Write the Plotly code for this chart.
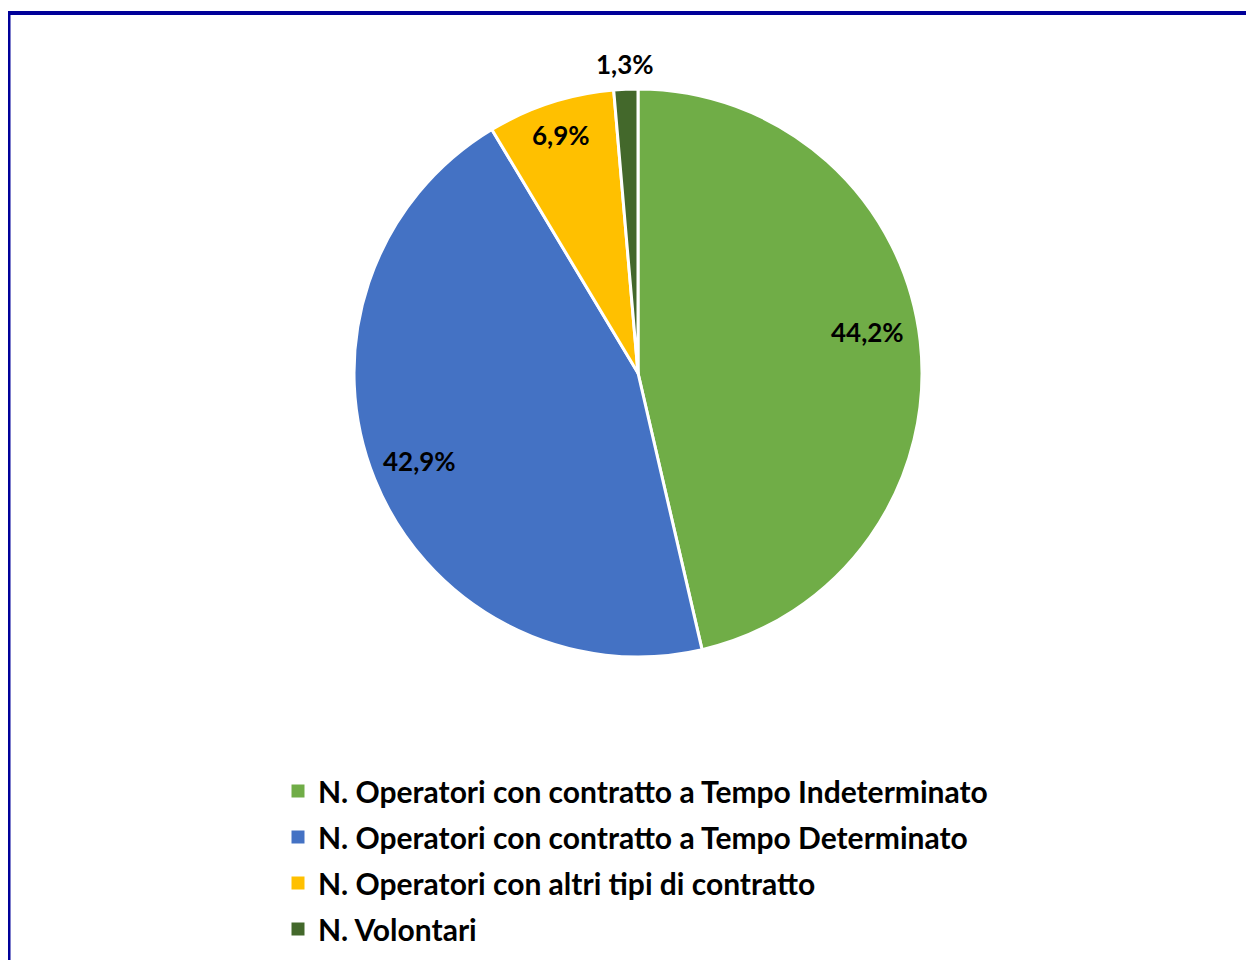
import math
import plotly.graph_objects as go

labels = [
    "N. Operatori con contratto a Tempo Indeterminato",
    "N. Operatori con contratto a Tempo Determinato",
    "N. Operatori con altri tipi di contratto",
    "N. Volontari",
]
values = [44.2, 42.9, 6.9, 1.3]
text_labels = ["44,2%", "42,9%", "6,9%", "1,3%"]
colors = ["#70AD47", "#4472C4", "#FFC000", "#43682B"]
label_radius = [0.82, 0.83, 0.88, 1.09]   # label distance as fraction of pie radius
label_angle_shift = [-3.5, 0, 0, 0]        # degrees

W, H = 1254, 960
OFF = 8  # page body margin offset
cx, cy, r = 638 - OFF, 373 - OFF, 284

fig = go.Figure(go.Pie(
    labels=labels,
    values=values,
    textinfo="none",
    sort=False,
    direction="clockwise",
    rotation=0,
    marker=dict(colors=colors, line=dict(color="white", width=3)),
    domain=dict(x=[(cx - r) / W, (cx + r) / W], y=[(H - cy - r) / H, (H - cy + r) / H]),
    hoverinfo="label+text",
    text=text_labels,
    showlegend=False,
))

# legend entries (one per slice)
for lab, col in zip(labels, colors):
    fig.add_trace(go.Scatter(
        x=[None], y=[None], mode="markers", name=lab, legendgroup=lab,
        marker=dict(symbol="square", size=13, color=col),
        showlegend=True,
    ))

# data labels positioned at slice mid-angles
total = sum(values)
cum = 0.0
annotations = []
for v, t, f, da in zip(values, text_labels, label_radius, label_angle_shift):
    mid = (cum + v / 2) / total * 2 * math.pi + math.radians(da)
    cum += v
    px = cx + f * r * math.sin(mid)
    py = cy - f * r * math.cos(mid)
    annotations.append(dict(
        x=px / W, y=1 - py / H, xref="paper", yref="paper",
        text=t, showarrow=False, xanchor="center", yanchor="middle",
        font=dict(family="Lato", size=26, color="black", weight="bold"),
    ))

fig.update_layout(
    width=W, height=H,
    margin=dict(l=0, r=0, t=0, b=0),
    paper_bgcolor="white",
    plot_bgcolor="white",
    xaxis=dict(visible=False),
    yaxis=dict(visible=False),
    showlegend=True,
    annotations=annotations,
    legend=dict(
        x=(298 - OFF - 20) / W, xanchor="left",
        y=1 - 757 / H, yanchor="top",
        font=dict(family="Lato", size=30, color="black", weight="bold"),
        bgcolor="rgba(0,0,0,0)",
        tracegroupgap=4,
        itemclick=False, itemdoubleclick=False,
    ),
    shapes=[
        dict(type="line", xref="paper", yref="paper", x0=0.5 / W, x1=0.5 / W, y0=-0.1, y1=1 - 3 / H,
             line=dict(color="#000099", width=4)),
        dict(type="line", xref="paper", yref="paper", x0=0, x1=1.1, y0=1 - 5 / H, y1=1 - 5 / H,
             line=dict(color="#000099", width=4)),
    ],
)

fig.write_html("out.html")
